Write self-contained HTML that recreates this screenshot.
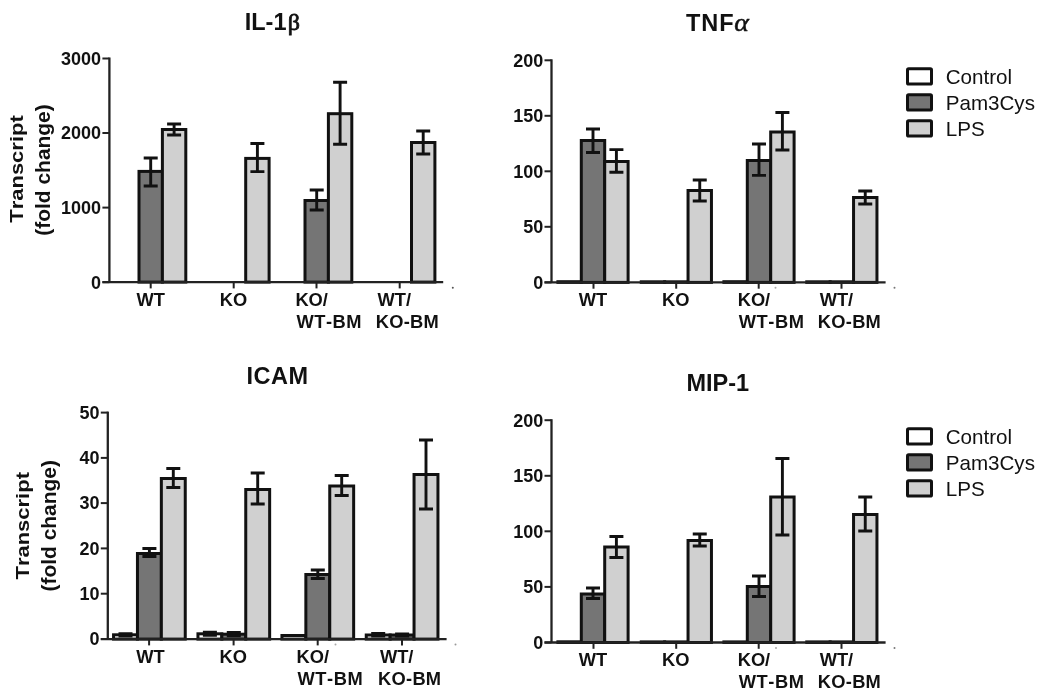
<!DOCTYPE html>
<html><head><meta charset="utf-8"><title>Transcript fold change</title>
<style>
html,body{margin:0;padding:0;background:#fff;}
body{width:1050px;height:700px;overflow:hidden;font-family:"Liberation Sans",sans-serif;}
svg{display:block;filter:blur(0.45px);}
text{font-family:"Liberation Sans",sans-serif;fill:#111;font-kerning:none;}
.tk{font-size:18px;font-weight:bold;}
.xl{font-size:18.3px;font-weight:bold;}
.yl{font-size:18.5px;font-weight:bold;}
.tt{font-size:23.5px;font-weight:bold;}
.gr{font-family:"Liberation Serif",serif;font-weight:normal;font-size:25px;stroke:#111;stroke-width:0.5px;}
.gi{font-style:italic;}
.lg{font-size:20.6px;}
</style></head><body>
<svg width="1050" height="700" viewBox="0 0 1050 700">
<rect width="1050" height="700" fill="#fff"/>
<rect x="139.00" y="171.40" width="23.40" height="110.70" fill="#757575" stroke="#111" stroke-width="3.0"/>
<path d="M150.70 158.00V186.00M143.70 158.00h14.0M143.70 186.00h14.0" stroke="#111" stroke-width="2.9" fill="none" stroke-linecap="butt"/>
<rect x="162.40" y="129.50" width="23.40" height="152.60" fill="#d0d0d0" stroke="#111" stroke-width="3.0"/>
<path d="M174.10 124.00V135.00M167.10 124.00h14.0M167.10 135.00h14.0" stroke="#111" stroke-width="2.9" fill="none" stroke-linecap="butt"/>
<rect x="245.70" y="158.40" width="23.40" height="123.70" fill="#d0d0d0" stroke="#111" stroke-width="3.0"/>
<path d="M257.40 143.50V171.60M250.40 143.50h14.0M250.40 171.60h14.0" stroke="#111" stroke-width="2.9" fill="none" stroke-linecap="butt"/>
<rect x="305.00" y="200.50" width="23.40" height="81.60" fill="#757575" stroke="#111" stroke-width="3.0"/>
<path d="M316.70 190.00V210.00M309.70 190.00h14.0M309.70 210.00h14.0" stroke="#111" stroke-width="2.9" fill="none" stroke-linecap="butt"/>
<rect x="328.40" y="113.70" width="23.40" height="168.40" fill="#d0d0d0" stroke="#111" stroke-width="3.0"/>
<path d="M340.10 82.30V144.30M333.10 82.30h14.0M333.10 144.30h14.0" stroke="#111" stroke-width="2.9" fill="none" stroke-linecap="butt"/>
<rect x="411.50" y="142.50" width="23.40" height="139.60" fill="#d0d0d0" stroke="#111" stroke-width="3.0"/>
<path d="M423.20 131.00V154.00M416.20 131.00h14.0M416.20 154.00h14.0" stroke="#111" stroke-width="2.9" fill="none" stroke-linecap="butt"/>
<path d="M109.4 57.5V282.1" stroke="#222" stroke-width="2.3" fill="none"/>
<path d="M102.4 282.1H443.2" stroke="#222" stroke-width="2.3" fill="none"/>
<path d="M102.4 58.5H109.4" stroke="#222" stroke-width="2.0"/>
<text x="101.10000000000001" y="64.8" text-anchor="end" class="tk">3000</text>
<path d="M102.4 133H109.4" stroke="#222" stroke-width="2.0"/>
<text x="101.10000000000001" y="139.3" text-anchor="end" class="tk">2000</text>
<path d="M102.4 207.6H109.4" stroke="#222" stroke-width="2.0"/>
<text x="101.10000000000001" y="213.9" text-anchor="end" class="tk">1000</text>
<path d="M102.4 282.2H109.4" stroke="#222" stroke-width="2.0"/>
<text x="101.10000000000001" y="288.5" text-anchor="end" class="tk">0</text>
<path d="M150.7 282.1v6.3" stroke="#222" stroke-width="2.0"/>
<path d="M233.7 282.1v6.3" stroke="#222" stroke-width="2.0"/>
<path d="M316.5 282.1v6.3" stroke="#222" stroke-width="2.0"/>
<path d="M399.7 282.1v6.3" stroke="#222" stroke-width="2.0"/>
<text x="150.7" y="305.5" text-anchor="middle" class="xl">WT</text>
<text x="233.4" y="305.5" text-anchor="middle" class="xl">KO</text>
<text x="295.4" y="305.5" class="xl">KO/</text>
<text x="296.4" y="327.5" class="xl" textLength="65.2">WT-BM</text>
<text x="377.6" y="305.5" class="xl">WT/</text>
<text x="375.8" y="327.5" class="xl" textLength="63">KO-BM</text>
<text x="244.7" y="30.4" class="tt">IL-1<tspan class="gr" dx="1.2" style="font-size:24px;stroke-width:0.8px">β</tspan></text>
<text transform="translate(22.9 169.0) rotate(-90)" text-anchor="middle" class="yl" textLength="107.5" lengthAdjust="spacingAndGlyphs">Transcript</text>
<text transform="translate(49.6 170.0) rotate(-90)" text-anchor="middle" class="yl" style="font-size:19.6px" textLength="131.5" lengthAdjust="spacingAndGlyphs">(fold change)</text>
<rect x="557.90" y="281.70" width="23.40" height="0.70" fill="#ffffff" stroke="#111" stroke-width="3.0"/>
<rect x="581.30" y="140.50" width="23.40" height="141.90" fill="#757575" stroke="#111" stroke-width="3.0"/>
<path d="M593.00 129.00V152.50M586.00 129.00h14.0M586.00 152.50h14.0" stroke="#111" stroke-width="2.9" fill="none" stroke-linecap="butt"/>
<rect x="604.70" y="161.50" width="23.40" height="120.90" fill="#d0d0d0" stroke="#111" stroke-width="3.0"/>
<path d="M616.40 149.60V172.20M609.40 149.60h14.0M609.40 172.20h14.0" stroke="#111" stroke-width="2.9" fill="none" stroke-linecap="butt"/>
<rect x="641.25" y="281.80" width="23.40" height="0.60" fill="#ffffff" stroke="#111" stroke-width="3.0"/>
<rect x="664.65" y="281.80" width="23.40" height="0.60" fill="#757575" stroke="#111" stroke-width="3.0"/>
<rect x="688.05" y="190.50" width="23.40" height="91.90" fill="#d0d0d0" stroke="#111" stroke-width="3.0"/>
<path d="M699.75 180.00V201.00M692.75 180.00h14.0M692.75 201.00h14.0" stroke="#111" stroke-width="2.9" fill="none" stroke-linecap="butt"/>
<rect x="723.90" y="281.70" width="23.40" height="0.70" fill="#ffffff" stroke="#111" stroke-width="3.0"/>
<rect x="747.30" y="160.50" width="23.40" height="121.90" fill="#757575" stroke="#111" stroke-width="3.0"/>
<path d="M759.00 144.00V175.40M752.00 144.00h14.0M752.00 175.40h14.0" stroke="#111" stroke-width="2.9" fill="none" stroke-linecap="butt"/>
<rect x="770.70" y="132.00" width="23.40" height="150.40" fill="#d0d0d0" stroke="#111" stroke-width="3.0"/>
<path d="M782.40 112.50V150.00M775.40 112.50h14.0M775.40 150.00h14.0" stroke="#111" stroke-width="2.9" fill="none" stroke-linecap="butt"/>
<rect x="806.75" y="281.80" width="23.40" height="0.60" fill="#ffffff" stroke="#111" stroke-width="3.0"/>
<rect x="830.15" y="281.80" width="23.40" height="0.60" fill="#757575" stroke="#111" stroke-width="3.0"/>
<rect x="853.55" y="197.50" width="23.40" height="84.90" fill="#d0d0d0" stroke="#111" stroke-width="3.0"/>
<path d="M865.25 191.00V204.00M858.25 191.00h14.0M858.25 204.00h14.0" stroke="#111" stroke-width="2.9" fill="none" stroke-linecap="butt"/>
<path d="M551.5 59.3V282.4" stroke="#222" stroke-width="2.3" fill="none"/>
<path d="M544.5 282.4H885.6" stroke="#222" stroke-width="2.3" fill="none"/>
<path d="M544.5 60.3H551.5" stroke="#222" stroke-width="2.0"/>
<text x="543.2" y="66.6" text-anchor="end" class="tk">200</text>
<path d="M544.5 115.8H551.5" stroke="#222" stroke-width="2.0"/>
<text x="543.2" y="122.1" text-anchor="end" class="tk">150</text>
<path d="M544.5 171.3H551.5" stroke="#222" stroke-width="2.0"/>
<text x="543.2" y="177.60000000000002" text-anchor="end" class="tk">100</text>
<path d="M544.5 226.8H551.5" stroke="#222" stroke-width="2.0"/>
<text x="543.2" y="233.10000000000002" text-anchor="end" class="tk">50</text>
<path d="M544.5 282.4H551.5" stroke="#222" stroke-width="2.0"/>
<text x="543.2" y="288.7" text-anchor="end" class="tk">0</text>
<path d="M593.5 282.4v6.3" stroke="#222" stroke-width="2.0"/>
<path d="M676.2 282.4v6.3" stroke="#222" stroke-width="2.0"/>
<path d="M758.7 282.4v6.3" stroke="#222" stroke-width="2.0"/>
<path d="M841.5 282.4v6.3" stroke="#222" stroke-width="2.0"/>
<text x="593.0" y="305.79999999999995" text-anchor="middle" class="xl">WT</text>
<text x="675.75" y="305.79999999999995" text-anchor="middle" class="xl">KO</text>
<text x="737.7" y="305.79999999999995" class="xl">KO/</text>
<text x="738.7" y="327.79999999999995" class="xl" textLength="65.2">WT-BM</text>
<text x="819.65" y="305.79999999999995" class="xl">WT/</text>
<text x="817.85" y="327.79999999999995" class="xl" textLength="63">KO-BM</text>
<text x="686" y="31.1" class="tt" textLength="47.5">TNF</text><text x="734.2" y="31.1" class="gr gi" textLength="14.6" lengthAdjust="spacingAndGlyphs">α</text>
<rect x="907.5" y="68.8" width="24" height="15.3" fill="#ffffff" stroke="#111" stroke-width="3" rx="1.2"/>
<text x="945.7" y="83.7" class="lg">Control</text>
<rect x="907.5" y="94.8" width="24" height="15.3" fill="#757575" stroke="#111" stroke-width="3" rx="1.2"/>
<text x="945.7" y="109.7" class="lg">Pam3Cys</text>
<rect x="907.5" y="120.8" width="24" height="15.3" fill="#d0d0d0" stroke="#111" stroke-width="3" rx="1.2"/>
<text x="945.7" y="135.7" class="lg">LPS</text>
<rect x="113.55" y="634.80" width="23.90" height="4.30" fill="#ffffff" stroke="#111" stroke-width="3.0"/>
<path d="M125.50 633.60V636.00M118.50 633.60h14.0M118.50 636.00h14.0" stroke="#111" stroke-width="2.9" fill="none" stroke-linecap="butt"/>
<rect x="137.45" y="553.50" width="23.90" height="85.60" fill="#757575" stroke="#111" stroke-width="3.0"/>
<path d="M149.40 548.50V556.50M142.40 548.50h14.0M142.40 556.50h14.0" stroke="#111" stroke-width="2.9" fill="none" stroke-linecap="butt"/>
<rect x="161.35" y="478.50" width="23.90" height="160.60" fill="#d0d0d0" stroke="#111" stroke-width="3.0"/>
<path d="M173.30 468.50V487.50M166.30 468.50h14.0M166.30 487.50h14.0" stroke="#111" stroke-width="2.9" fill="none" stroke-linecap="butt"/>
<rect x="197.95" y="633.80" width="23.90" height="5.30" fill="#ffffff" stroke="#111" stroke-width="3.0"/>
<path d="M209.90 632.20V635.40M202.90 632.20h14.0M202.90 635.40h14.0" stroke="#111" stroke-width="2.9" fill="none" stroke-linecap="butt"/>
<rect x="221.85" y="634.20" width="23.90" height="4.90" fill="#757575" stroke="#111" stroke-width="3.0"/>
<path d="M233.80 632.40V635.80M226.80 632.40h14.0M226.80 635.80h14.0" stroke="#111" stroke-width="2.9" fill="none" stroke-linecap="butt"/>
<rect x="245.75" y="489.50" width="23.90" height="149.60" fill="#d0d0d0" stroke="#111" stroke-width="3.0"/>
<path d="M257.70 473.00V504.00M250.70 473.00h14.0M250.70 504.00h14.0" stroke="#111" stroke-width="2.9" fill="none" stroke-linecap="butt"/>
<rect x="281.95" y="635.50" width="23.90" height="3.60" fill="#ffffff" stroke="#111" stroke-width="3.0"/>
<rect x="305.85" y="574.50" width="23.90" height="64.60" fill="#757575" stroke="#111" stroke-width="3.0"/>
<path d="M317.80 570.00V578.50M310.80 570.00h14.0M310.80 578.50h14.0" stroke="#111" stroke-width="2.9" fill="none" stroke-linecap="butt"/>
<rect x="329.75" y="486.00" width="23.90" height="153.10" fill="#d0d0d0" stroke="#111" stroke-width="3.0"/>
<path d="M341.70 475.50V495.50M334.70 475.50h14.0M334.70 495.50h14.0" stroke="#111" stroke-width="2.9" fill="none" stroke-linecap="butt"/>
<rect x="366.25" y="635.00" width="23.90" height="4.10" fill="#ffffff" stroke="#111" stroke-width="3.0"/>
<path d="M378.20 633.50V636.00M371.20 633.50h14.0M371.20 636.00h14.0" stroke="#111" stroke-width="2.9" fill="none" stroke-linecap="butt"/>
<rect x="390.15" y="635.00" width="23.90" height="4.10" fill="#757575" stroke="#111" stroke-width="3.0"/>
<path d="M402.10 634.00V636.00M395.10 634.00h14.0M395.10 636.00h14.0" stroke="#111" stroke-width="2.9" fill="none" stroke-linecap="butt"/>
<rect x="414.05" y="474.50" width="23.90" height="164.60" fill="#d0d0d0" stroke="#111" stroke-width="3.0"/>
<path d="M426.00 440.00V509.00M419.00 440.00h14.0M419.00 509.00h14.0" stroke="#111" stroke-width="2.9" fill="none" stroke-linecap="butt"/>
<path d="M107.8 411.6V639.1" stroke="#222" stroke-width="2.3" fill="none"/>
<path d="M100.8 639.1H446.6" stroke="#222" stroke-width="2.3" fill="none"/>
<path d="M100.8 412.6H107.8" stroke="#222" stroke-width="2.0"/>
<text x="99.5" y="418.90000000000003" text-anchor="end" class="tk">50</text>
<path d="M100.8 457.9H107.8" stroke="#222" stroke-width="2.0"/>
<text x="99.5" y="464.2" text-anchor="end" class="tk">40</text>
<path d="M100.8 503.1H107.8" stroke="#222" stroke-width="2.0"/>
<text x="99.5" y="509.40000000000003" text-anchor="end" class="tk">30</text>
<path d="M100.8 548.4H107.8" stroke="#222" stroke-width="2.0"/>
<text x="99.5" y="554.6999999999999" text-anchor="end" class="tk">20</text>
<path d="M100.8 593.7H107.8" stroke="#222" stroke-width="2.0"/>
<text x="99.5" y="600.0" text-anchor="end" class="tk">10</text>
<path d="M100.8 639H107.8" stroke="#222" stroke-width="2.0"/>
<text x="99.5" y="645.3" text-anchor="end" class="tk">0</text>
<path d="M149.1 639.1v6.3" stroke="#222" stroke-width="2.0"/>
<path d="M233.6 639.1v6.3" stroke="#222" stroke-width="2.0"/>
<path d="M317.7 639.1v6.3" stroke="#222" stroke-width="2.0"/>
<path d="M402.0 639.1v6.3" stroke="#222" stroke-width="2.0"/>
<text x="150.4" y="663.3000000000001" text-anchor="middle" class="xl">WT</text>
<text x="233.20000000000002" y="663.3000000000001" text-anchor="middle" class="xl">KO</text>
<text x="296.5" y="663.3000000000001" class="xl">KO/</text>
<text x="297.5" y="685.3000000000001" class="xl" textLength="65.2">WT-BM</text>
<text x="379.90000000000003" y="663.3000000000001" class="xl">WT/</text>
<text x="378.1" y="685.3000000000001" class="xl" textLength="63">KO-BM</text>
<text x="246.5" y="384" class="tt" textLength="61.6">ICAM</text>
<text transform="translate(28.6 525.8) rotate(-90)" text-anchor="middle" class="yl" textLength="107.5" lengthAdjust="spacingAndGlyphs">Transcript</text>
<text transform="translate(55.8 525.8) rotate(-90)" text-anchor="middle" class="yl" style="font-size:19.6px" textLength="131.5" lengthAdjust="spacingAndGlyphs">(fold change)</text>
<rect x="557.90" y="641.80" width="23.40" height="0.70" fill="#ffffff" stroke="#111" stroke-width="3.0"/>
<rect x="581.30" y="594.00" width="23.40" height="48.50" fill="#757575" stroke="#111" stroke-width="3.0"/>
<path d="M593.00 588.00V598.50M586.00 588.00h14.0M586.00 598.50h14.0" stroke="#111" stroke-width="2.9" fill="none" stroke-linecap="butt"/>
<rect x="604.70" y="547.00" width="23.40" height="95.50" fill="#d0d0d0" stroke="#111" stroke-width="3.0"/>
<path d="M616.40 536.50V557.50M609.40 536.50h14.0M609.40 557.50h14.0" stroke="#111" stroke-width="2.9" fill="none" stroke-linecap="butt"/>
<rect x="641.25" y="641.90" width="23.40" height="0.60" fill="#ffffff" stroke="#111" stroke-width="3.0"/>
<rect x="664.65" y="641.90" width="23.40" height="0.60" fill="#757575" stroke="#111" stroke-width="3.0"/>
<rect x="688.05" y="540.50" width="23.40" height="102.00" fill="#d0d0d0" stroke="#111" stroke-width="3.0"/>
<path d="M699.75 534.00V546.00M692.75 534.00h14.0M692.75 546.00h14.0" stroke="#111" stroke-width="2.9" fill="none" stroke-linecap="butt"/>
<rect x="723.90" y="641.90" width="23.40" height="0.60" fill="#ffffff" stroke="#111" stroke-width="3.0"/>
<rect x="747.30" y="586.50" width="23.40" height="56.00" fill="#757575" stroke="#111" stroke-width="3.0"/>
<path d="M759.00 576.00V596.50M752.00 576.00h14.0M752.00 596.50h14.0" stroke="#111" stroke-width="2.9" fill="none" stroke-linecap="butt"/>
<rect x="770.70" y="497.00" width="23.40" height="145.50" fill="#d0d0d0" stroke="#111" stroke-width="3.0"/>
<path d="M782.40 458.50V535.00M775.40 458.50h14.0M775.40 535.00h14.0" stroke="#111" stroke-width="2.9" fill="none" stroke-linecap="butt"/>
<rect x="806.75" y="641.90" width="23.40" height="0.60" fill="#ffffff" stroke="#111" stroke-width="3.0"/>
<rect x="830.15" y="641.90" width="23.40" height="0.60" fill="#757575" stroke="#111" stroke-width="3.0"/>
<rect x="853.55" y="514.50" width="23.40" height="128.00" fill="#d0d0d0" stroke="#111" stroke-width="3.0"/>
<path d="M865.25 497.00V531.00M858.25 497.00h14.0M858.25 531.00h14.0" stroke="#111" stroke-width="2.9" fill="none" stroke-linecap="butt"/>
<path d="M551.5 419.2V642.5" stroke="#222" stroke-width="2.3" fill="none"/>
<path d="M544.5 642.5H885.6" stroke="#222" stroke-width="2.3" fill="none"/>
<path d="M544.5 420.2H551.5" stroke="#222" stroke-width="2.0"/>
<text x="543.2" y="426.5" text-anchor="end" class="tk">200</text>
<path d="M544.5 475.8H551.5" stroke="#222" stroke-width="2.0"/>
<text x="543.2" y="482.1" text-anchor="end" class="tk">150</text>
<path d="M544.5 531.3H551.5" stroke="#222" stroke-width="2.0"/>
<text x="543.2" y="537.5999999999999" text-anchor="end" class="tk">100</text>
<path d="M544.5 586.9H551.5" stroke="#222" stroke-width="2.0"/>
<text x="543.2" y="593.1999999999999" text-anchor="end" class="tk">50</text>
<path d="M544.5 642.5H551.5" stroke="#222" stroke-width="2.0"/>
<text x="543.2" y="648.8" text-anchor="end" class="tk">0</text>
<path d="M593.5 642.5v6.3" stroke="#222" stroke-width="2.0"/>
<path d="M676.2 642.5v6.3" stroke="#222" stroke-width="2.0"/>
<path d="M758.7 642.5v6.3" stroke="#222" stroke-width="2.0"/>
<path d="M841.5 642.5v6.3" stroke="#222" stroke-width="2.0"/>
<text x="593.0" y="665.9" text-anchor="middle" class="xl">WT</text>
<text x="675.75" y="665.9" text-anchor="middle" class="xl">KO</text>
<text x="737.7" y="665.9" class="xl">KO/</text>
<text x="738.7" y="687.9" class="xl" textLength="65.2">WT-BM</text>
<text x="819.65" y="665.9" class="xl">WT/</text>
<text x="817.85" y="687.9" class="xl" textLength="63">KO-BM</text>
<text x="686.4" y="391" class="tt">MIP-1</text>
<rect x="907.5" y="428.8" width="24" height="15.3" fill="#ffffff" stroke="#111" stroke-width="3" rx="1.2"/>
<text x="945.7" y="443.7" class="lg">Control</text>
<rect x="907.5" y="454.8" width="24" height="15.3" fill="#757575" stroke="#111" stroke-width="3" rx="1.2"/>
<text x="945.7" y="469.7" class="lg">Pam3Cys</text>
<rect x="907.5" y="480.8" width="24" height="15.3" fill="#d0d0d0" stroke="#111" stroke-width="3" rx="1.2"/>
<text x="945.7" y="495.7" class="lg">LPS</text>
<circle cx="452.8" cy="287.7" r="1" fill="#555"/>
<circle cx="455.5" cy="644.5" r="1" fill="#999"/>
<circle cx="335.5" cy="644.5" r="1" fill="#aaa"/>
<circle cx="775.5" cy="287.8" r="1" fill="#aaa"/>
<circle cx="894.5" cy="287.8" r="1" fill="#777"/>
<circle cx="776" cy="648" r="1" fill="#aaa"/>
<circle cx="894.5" cy="648" r="1" fill="#777"/>
</svg>
</body></html>
